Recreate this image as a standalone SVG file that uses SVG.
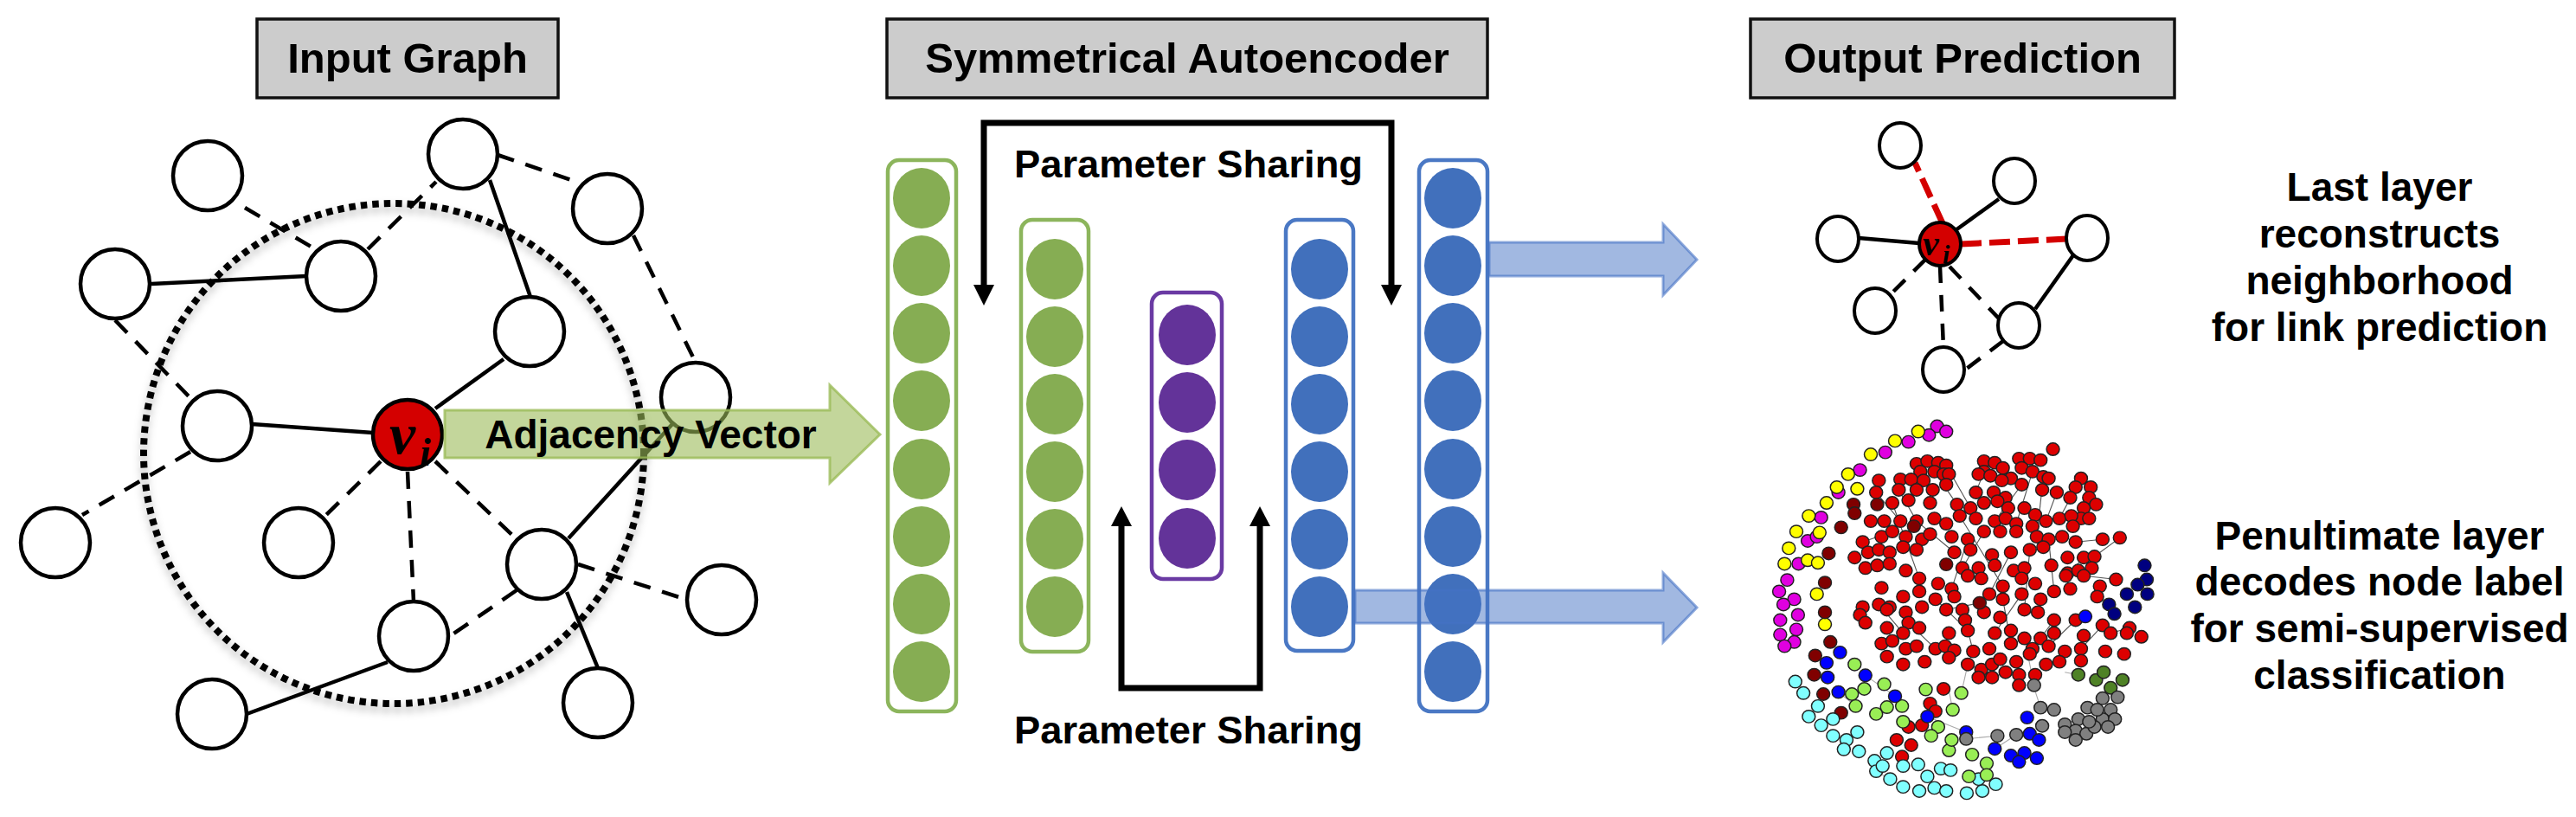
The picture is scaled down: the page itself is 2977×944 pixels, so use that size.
<svg xmlns="http://www.w3.org/2000/svg" width="2977" height="944" viewBox="0 0 2977 944">
<defs>
<style>
.tbox{fill:#cccccc;stroke:#111;stroke-width:3.5}
.title{font-family:"Liberation Sans",Arial,sans-serif;font-weight:bold;font-size:49px;text-anchor:middle;fill:#000}
.lbl{font-family:"Liberation Sans",Arial,sans-serif;font-weight:bold;font-size:46px;text-anchor:middle;fill:#000}
.ps{font-family:"Liberation Sans",Arial,sans-serif;font-weight:bold;font-size:45px;fill:#000}
.math{font-family:"Liberation Serif","Times New Roman",serif;font-style:italic;font-weight:bold;fill:#000}
.n{fill:#fff;stroke:#000;stroke-width:4.5}
.s{stroke:#000;stroke-width:4.5;fill:none}
.d{stroke:#000;stroke-width:4.5;stroke-dasharray:20 14;fill:none}
.rd{stroke:#d40000;stroke-width:7;stroke-dasharray:24 9;fill:none}
.vi{fill:#d40000;stroke:#000;stroke-width:4.5}
.g{fill:#86ad53}.p{fill:#633399}.b{fill:#4170bc}
.gr{fill:#fff;stroke:#8cb55c;stroke-width:4.5}
.pr{fill:#fff;stroke:#6a3aa3;stroke-width:4.5}
.br{fill:#fff;stroke:#4a78c4;stroke-width:4.5}
.brk{stroke:#000;stroke-width:7;fill:none}
.cg circle{stroke:#222;stroke-width:2.4}
.cr{fill:#dd0000}.cm{fill:#e000e0}.cy{fill:#ffff00}.cd{fill:#800000}.cb{fill:#0000ff}.cn{fill:#000080}.cc{fill:#80ffff}.cl{fill:#99ee55}.cgn{fill:#4f8226}.ck{fill:#808080}
</style>
<filter id="sh" x="-20%" y="-20%" width="140%" height="140%">
<feDropShadow dx="0" dy="6" stdDeviation="5" flood-color="#000" flood-opacity="0.3"/>
</filter>
</defs>
<rect width="2977" height="944" fill="#fff"/>

<!-- Titles -->
<g id="title-input"><rect class="tbox" x="297" y="22" width="348" height="91"/><text class="title" x="471" y="84">Input Graph</text></g>
<g id="title-ae"><rect class="tbox" x="1025" y="22" width="694" height="91"/><text class="title" x="1372" y="84">Symmetrical Autoencoder</text></g>
<g id="title-out"><rect class="tbox" x="2023" y="22" width="490" height="91"/><text class="title" x="2268" y="84">Output Prediction</text></g>

<!-- Input graph -->
<circle id="neighborhood" cx="455" cy="524" r="289" fill="none" stroke="#000" stroke-width="8" stroke-dasharray="7.5 6" filter="url(#sh)"/>
<g id="input-edges">
<line class="d" x1="283" y1="240" x2="368" y2="290"/>
<line class="s" x1="175" y1="328" x2="354" y2="319"/>
<line class="d" x1="425" y1="288" x2="504" y2="210"/>
<line class="d" x1="133" y1="370" x2="222" y2="462"/>
<line class="s" x1="291" y1="490" x2="431" y2="500"/>
<line class="d" x1="220" y1="522" x2="95" y2="595"/>
<line class="d" x1="440" y1="533" x2="377" y2="595"/>
<line class="d" x1="471" y1="545" x2="478" y2="695"/>
<line class="d" x1="503" y1="533" x2="597" y2="623"/>
<line class="s" x1="657" y1="622" x2="777" y2="490"/>
<line class="d" x1="668" y1="652" x2="794" y2="693"/>
<line class="s" x1="655" y1="684" x2="691" y2="772"/>
<line class="d" x1="597" y1="682" x2="520" y2="735"/>
<line class="s" x1="448" y1="765" x2="285" y2="825"/>
<line class="d" x1="575" y1="179" x2="666" y2="210"/>
<line class="s" x1="566" y1="208" x2="613" y2="343"/>
<line class="d" x1="732" y1="272" x2="804" y2="419"/>
<line class="s" x1="582" y1="415" x2="503" y2="472"/>
</g>
<g id="n1"><circle class="n" cx="240" cy="203" r="40"/></g>
<g id="n2"><circle class="n" cx="535" cy="178" r="40"/></g>
<g id="n3"><circle class="n" cx="702" cy="241" r="40"/></g>
<g id="n4"><circle class="n" cx="133" cy="328" r="40"/></g>
<g id="n5"><circle class="n" cx="394" cy="319" r="40"/></g>
<g id="n6"><circle class="n" cx="612" cy="383" r="40"/></g>
<g id="n7"><circle class="n" cx="804" cy="459" r="40"/></g>
<g id="n8"><circle class="n" cx="251" cy="492" r="40"/></g>
<g id="n10"><circle class="n" cx="64" cy="627" r="40"/></g>
<g id="n11"><circle class="n" cx="345" cy="627" r="40"/></g>
<g id="n12"><circle class="n" cx="626" cy="652" r="40"/></g>
<g id="n13"><circle class="n" cx="834" cy="693" r="40"/></g>
<g id="n14"><circle class="n" cx="478" cy="735" r="40"/></g>
<g id="n15"><circle class="n" cx="245" cy="825" r="40"/></g>
<g id="n16"><circle class="n" cx="691" cy="812" r="40"/></g>
<g id="vi-main"><circle class="vi" cx="471" cy="502" r="40"/><text class="math" x="450" y="524" font-size="68">v</text><text class="math" x="485" y="538" font-size="46">i</text></g>

<!-- Adjacency vector arrow -->
<g id="adjacency-arrow">
<path d="M514,474 L959,474 L959,445 L1017,502 L959,558 L959,529 L514,529 Z" fill="#9bbb59" fill-opacity="0.6" stroke="#9bbb59" stroke-opacity="0.8" stroke-width="3"/>
<text class="lbl" x="752" y="518">Adjacency Vector</text>
</g>

<!-- Autoencoder layers -->
<g id="layer1">
<rect class="gr" x="1026" y="185" width="79" height="637" rx="13"/>
<ellipse class="g" cx="1065" cy="229" rx="33" ry="35"/><ellipse class="g" cx="1065" cy="307" rx="33" ry="35"/><ellipse class="g" cx="1065" cy="385" rx="33" ry="35"/><ellipse class="g" cx="1065" cy="463" rx="33" ry="35"/><ellipse class="g" cx="1065" cy="542" rx="33" ry="35"/><ellipse class="g" cx="1065" cy="620" rx="33" ry="35"/><ellipse class="g" cx="1065" cy="698" rx="33" ry="35"/><ellipse class="g" cx="1065" cy="776" rx="33" ry="35"/>
</g>
<g id="layer2">
<rect class="gr" x="1180" y="254" width="78" height="499" rx="13"/>
<ellipse class="g" cx="1219" cy="311" rx="33" ry="35"/><ellipse class="g" cx="1219" cy="389" rx="33" ry="35"/><ellipse class="g" cx="1219" cy="467" rx="33" ry="35"/><ellipse class="g" cx="1219" cy="545" rx="33" ry="35"/><ellipse class="g" cx="1219" cy="623" rx="33" ry="35"/><ellipse class="g" cx="1219" cy="701" rx="33" ry="35"/>
</g>
<g id="layer3">
<rect class="pr" x="1331" y="338" width="81" height="331" rx="13"/>
<ellipse class="p" cx="1372" cy="387" rx="33" ry="35"/><ellipse class="p" cx="1372" cy="465" rx="33" ry="35"/><ellipse class="p" cx="1372" cy="543" rx="33" ry="35"/><ellipse class="p" cx="1372" cy="622" rx="33" ry="35"/>
</g>
<g id="layer4">
<rect class="br" x="1486" y="254" width="78" height="498" rx="13"/>
<ellipse class="b" cx="1525" cy="311" rx="33" ry="35"/><ellipse class="b" cx="1525" cy="389" rx="33" ry="35"/><ellipse class="b" cx="1525" cy="467" rx="33" ry="35"/><ellipse class="b" cx="1525" cy="545" rx="33" ry="35"/><ellipse class="b" cx="1525" cy="623" rx="33" ry="35"/><ellipse class="b" cx="1525" cy="701" rx="33" ry="35"/>
</g>
<g id="layer5">
<rect class="br" x="1640" y="185" width="79" height="637" rx="13"/>
<ellipse class="b" cx="1679" cy="229" rx="33" ry="35"/><ellipse class="b" cx="1679" cy="307" rx="33" ry="35"/><ellipse class="b" cx="1679" cy="385" rx="33" ry="35"/><ellipse class="b" cx="1679" cy="463" rx="33" ry="35"/><ellipse class="b" cx="1679" cy="542" rx="33" ry="35"/><ellipse class="b" cx="1679" cy="620" rx="33" ry="35"/><ellipse class="b" cx="1679" cy="698" rx="33" ry="35"/><ellipse class="b" cx="1679" cy="776" rx="33" ry="35"/>
</g>

<!-- Parameter sharing brackets and output arrows -->
<g id="connectors">
<path class="brk" d="M1137,331 L1137,142 L1608,142 L1608,331"/>
<polygon points="1125,329 1149,329 1137,353"/>
<polygon points="1596,329 1620,329 1608,353"/>
<path class="brk" d="M1296,606 L1296,795 L1456,795 L1456,606"/>
<polygon points="1284,608 1308,608 1296,585"/>
<polygon points="1444,608 1468,608 1456,585"/>
<path d="M1721,280 L1922,280 L1922,259 L1961,300 L1922,341 L1922,319 L1721,319 Z" fill="#4472c4" fill-opacity="0.5" stroke="#4472c4" stroke-opacity="0.6" stroke-width="3"/>
<path d="M1566,682 L1922,682 L1922,662 L1961,702 L1922,742 L1922,720 L1566,720 Z" fill="#4472c4" fill-opacity="0.5" stroke="#4472c4" stroke-opacity="0.6" stroke-width="3"/>
</g>
<text class="ps" x="1172" y="205" textLength="403" lengthAdjust="spacingAndGlyphs">Parameter Sharing</text>
<text class="ps" x="1172" y="859" textLength="403" lengthAdjust="spacingAndGlyphs">Parameter Sharing</text>

<!-- Output small graph -->
<g id="out-edges">
<line class="rd" x1="2245" y1="258" x2="2213" y2="188"/>
<line class="s" x1="2260" y1="266" x2="2310" y2="230"/>
<line class="s" x1="2218" y1="281" x2="2148" y2="275" stroke-width="3.5"/>
<line class="rd" x1="2266" y1="282" x2="2388" y2="276"/>
<line class="d" x1="2225" y1="300" x2="2185" y2="340" style="stroke-dasharray:19 14"/>
<line class="d" x1="2242" y1="308" x2="2246" y2="402" style="stroke-dasharray:19 14"/>
<line class="d" x1="2253" y1="308" x2="2310" y2="368" style="stroke-dasharray:19 14"/>
<line class="s" x1="2396" y1="295" x2="2352" y2="357" stroke-width="5"/>
<line class="d" x1="2315" y1="394" x2="2270" y2="428" style="stroke-dasharray:19 14"/>
</g>
<g id="oA"><ellipse class="n" cx="2196" cy="168" rx="24" ry="26" style="stroke-width:4"/></g>
<g id="oB"><ellipse class="n" cx="2328" cy="209" rx="24" ry="26" style="stroke-width:4"/></g>
<g id="oC"><ellipse class="n" cx="2124" cy="276" rx="24" ry="26" style="stroke-width:4"/></g>
<g id="oD"><ellipse class="n" cx="2412" cy="275" rx="24" ry="26" style="stroke-width:4"/></g>
<g id="oE"><ellipse class="n" cx="2167" cy="359" rx="24" ry="26" style="stroke-width:4"/></g>
<g id="oF"><ellipse class="n" cx="2333" cy="376" rx="24" ry="26" style="stroke-width:4"/></g>
<g id="oG"><ellipse class="n" cx="2246" cy="427" rx="24" ry="26" style="stroke-width:4"/></g>
<g id="vi-out"><ellipse class="vi" cx="2242" cy="282" rx="24" ry="25" style="stroke-width:4"/><text class="math" x="2222" y="295" font-size="42">v</text><text class="math" x="2245" y="304" font-size="30">i</text></g>

<!-- Right texts -->
<g id="text-link">
<text class="lbl" x="2750" y="232">Last layer</text>
<text class="lbl" x="2750" y="286">reconstructs</text>
<text class="lbl" x="2750" y="340">neighborhood</text>
<text class="lbl" x="2750" y="394">for link prediction</text>
</g>
<g id="text-class">
<text class="lbl" x="2750" y="635">Penultimate layer</text>
<text class="lbl" x="2750" y="688">decodes node label</text>
<text class="lbl" x="2750" y="742">for semi-supervised</text>
<text class="lbl" x="2750" y="796">classification</text>
</g>

<!-- Classification graph (scene) -->
<g id="class-graph" class="cg" transform="translate(2000 0) scale(0.623 0.6021)">
<g stroke="#555" stroke-width="1.8">
<line x1="400" y1="893" x2="445" y2="975"/><line x1="378" y1="905" x2="420" y2="968"/><line x1="470" y1="905" x2="455" y2="945"/><line x1="540" y1="930" x2="490" y2="1000"/><line x1="560" y1="905" x2="530" y2="1005"/><line x1="580" y1="915" x2="568" y2="1030"/><line x1="650" y1="918" x2="610" y2="995"/><line x1="300" y1="965" x2="350" y2="1110"/><line x1="425" y1="990" x2="505" y2="1125"/><line x1="440" y1="1035" x2="410" y2="1130"/><line x1="520" y1="1060" x2="480" y2="1140"/><line x1="555" y1="1055" x2="545" y2="1170"/><line x1="605" y1="945" x2="585" y2="1000"/><line x1="345" y1="1000" x2="415" y2="1060"/><line x1="470" y1="1020" x2="430" y2="1090"/><line x1="590" y1="1035" x2="600" y2="1135"/><line x1="655" y1="1070" x2="622" y2="1105"/><line x1="715" y1="1112" x2="655" y2="1105"/><line x1="690" y1="1035" x2="640" y2="1040"/><line x1="722" y1="1032" x2="675" y2="1068"/><line x1="380" y1="1150" x2="440" y2="1210"/><line x1="505" y1="1150" x2="520" y2="1235"/><line x1="540" y1="1140" x2="490" y2="1215"/><line x1="600" y1="1190" x2="560" y2="1245"/><line x1="640" y1="1190" x2="590" y2="1240"/><line x1="690" y1="1200" x2="650" y2="1245"/><line x1="740" y1="1205" x2="705" y2="1215"/><line x1="435" y1="1190" x2="450" y2="1250"/><line x1="330" y1="1195" x2="380" y2="1245"/><line x1="270" y1="945" x2="315" y2="1000"/><line x1="312" y1="940" x2="345" y2="1000"/><line x1="245" y1="1040" x2="300" y2="1020"/><line x1="275" y1="1160" x2="320" y2="1215"/><line x1="462" y1="1157" x2="400" y2="1170"/>
</g>
<g stroke="#aaa" stroke-width="1.8">
<line x1="437" y1="1418" x2="495" y2="1412"/><line x1="365" y1="1375" x2="437" y2="1405"/><line x1="250" y1="1296" x2="305" y2="1336"/><line x1="200" y1="1328" x2="232" y2="1355"/><line x1="490" y1="1437" x2="530" y2="1410"/><line x1="563" y1="1315" x2="545" y2="1225"/><line x1="575" y1="1358" x2="555" y2="1295"/><line x1="620" y1="1290" x2="645" y2="1295"/><line x1="412" y1="1362" x2="405" y2="1325"/><line x1="428" y1="1330" x2="440" y2="1275"/><line x1="270" y1="1480" x2="320" y2="1510"/>
</g>
<g class="cr">
<circle cx="598" cy="862" r="12"/><circle cx="345" cy="890" r="12"/><circle cx="365" cy="885" r="12"/><circle cx="385" cy="888" r="12"/><circle cx="400" cy="893" r="12"/><circle cx="470" cy="885" r="12"/><circle cx="490" cy="888" r="12"/><circle cx="535" cy="880" r="12"/><circle cx="555" cy="880" r="12"/><circle cx="575" cy="883" r="12"/>
<circle cx="352" cy="905" r="12"/><circle cx="378" cy="905" r="12"/><circle cx="470" cy="905" r="12"/><circle cx="505" cy="898" r="12"/><circle cx="540" cy="898" r="12"/><circle cx="560" cy="905" r="12"/><circle cx="580" cy="915" r="12"/><circle cx="395" cy="910" r="12"/>
<circle cx="275" cy="922" r="12"/><circle cx="315" cy="920" r="12"/><circle cx="335" cy="920" r="12"/><circle cx="358" cy="922" r="12"/><circle cx="405" cy="910" r="12"/><circle cx="460" cy="910" r="12"/><circle cx="482" cy="913" r="12"/><circle cx="650" cy="918" r="12"/><circle cx="668" cy="935" r="12"/><circle cx="520" cy="918" r="12"/><circle cx="590" cy="918" r="12"/><circle cx="503" cy="922" r="12"/>
<circle cx="270" cy="945" r="12"/><circle cx="312" cy="940" r="12"/><circle cx="345" cy="940" r="12"/><circle cx="375" cy="940" r="12"/><circle cx="400" cy="930" r="12"/><circle cx="540" cy="930" r="12"/><circle cx="578" cy="940" r="12"/><circle cx="640" cy="935" r="12"/><circle cx="665" cy="955" r="12"/><circle cx="678" cy="968" r="12"/><circle cx="455" cy="945" r="12"/><circle cx="488" cy="945" r="12"/><circle cx="510" cy="955" r="12"/><circle cx="495" cy="962" r="12"/>
<circle cx="300" cy="965" r="12"/><circle cx="330" cy="960" r="12"/><circle cx="370" cy="965" r="12"/><circle cx="420" cy="968" r="12"/><circle cx="445" cy="975" r="12"/><circle cx="470" cy="965" r="12"/><circle cx="515" cy="975" r="12"/><circle cx="545" cy="975" r="12"/><circle cx="565" cy="988" r="12"/><circle cx="605" cy="945" r="12"/><circle cx="630" cy="955" r="12"/><circle cx="655" cy="975" r="12"/><circle cx="650" cy="995" r="12"/>
<circle cx="260" cy="1000" r="12"/><circle cx="285" cy="1000" r="12"/><circle cx="315" cy="1000" r="12"/><circle cx="345" cy="1000" r="12"/><circle cx="378" cy="995" r="12"/><circle cx="400" cy="1005" r="12"/><circle cx="425" cy="990" r="12"/><circle cx="455" cy="995" r="12"/><circle cx="490" cy="1000" r="12"/><circle cx="510" cy="995" r="12"/><circle cx="530" cy="1005" r="12"/><circle cx="560" cy="1010" r="12"/><circle cx="585" cy="1000" r="12"/><circle cx="610" cy="995" r="12"/><circle cx="632" cy="990" r="12"/><circle cx="635" cy="1010" r="12"/><circle cx="665" cy="995" r="12"/><circle cx="690" cy="1035" r="12"/><circle cx="722" cy="1032" r="12"/>
<circle cx="245" cy="1040" r="12"/><circle cx="280" cy="1030" r="12"/><circle cx="300" cy="1020" r="12"/><circle cx="325" cy="1030" r="12"/><circle cx="355" cy="1035" r="12"/><circle cx="370" cy="1025" r="12"/><circle cx="410" cy="1030" r="12"/><circle cx="440" cy="1035" r="12"/><circle cx="470" cy="1020" r="12"/><circle cx="500" cy="1020" r="12"/><circle cx="530" cy="1020" r="12"/><circle cx="568" cy="1030" r="12"/><circle cx="590" cy="1035" r="12"/><circle cx="615" cy="1030" r="12"/><circle cx="640" cy="1040" r="12"/>
<circle cx="230" cy="1070" r="12"/><circle cx="255" cy="1060" r="12"/><circle cx="275" cy="1055" r="12"/><circle cx="295" cy="1060" r="12"/><circle cx="320" cy="1050" r="12"/><circle cx="345" cy="1055" r="12"/><circle cx="415" cy="1060" r="12"/><circle cx="445" cy="1055" r="12"/><circle cx="485" cy="1065" r="12"/><circle cx="520" cy="1060" r="12"/><circle cx="555" cy="1055" r="12"/><circle cx="580" cy="1050" r="12"/><circle cx="625" cy="1070" r="12"/><circle cx="655" cy="1070" r="12"/><circle cx="675" cy="1068" r="12"/>
<circle cx="250" cy="1090" r="12"/><circle cx="272" cy="1085" r="12"/><circle cx="295" cy="1082" r="12"/><circle cx="325" cy="1095" r="12"/><circle cx="430" cy="1090" r="12"/><circle cx="460" cy="1090" r="12"/><circle cx="490" cy="1085" r="12"/><circle cx="525" cy="1095" r="12"/><circle cx="545" cy="1090" r="12"/><circle cx="595" cy="1085" r="12"/><circle cx="625" cy="1100" r="12"/><circle cx="645" cy="1095" r="12"/><circle cx="670" cy="1090" r="12"/>
<circle cx="350" cy="1110" r="12"/><circle cx="385" cy="1120" r="12"/><circle cx="410" cy="1130" r="12"/><circle cx="440" cy="1105" r="12"/><circle cx="465" cy="1110" r="12"/><circle cx="505" cy="1125" r="12"/><circle cx="540" cy="1110" r="12"/><circle cx="565" cy="1120" r="12"/><circle cx="622" cy="1105" r="12"/><circle cx="655" cy="1105" r="12"/><circle cx="715" cy="1112" r="12"/><circle cx="280" cy="1128" r="12"/><circle cx="320" cy="1145" r="12"/><circle cx="350" cy="1135" r="12"/>
<circle cx="245" cy="1165" r="12"/><circle cx="275" cy="1160" r="12"/><circle cx="295" cy="1165" r="12"/><circle cx="355" cy="1165" r="12"/><circle cx="380" cy="1150" r="12"/><circle cx="415" cy="1145" r="12"/><circle cx="480" cy="1140" r="12"/><circle cx="505" cy="1150" r="12"/><circle cx="540" cy="1140" r="12"/><circle cx="575" cy="1150" r="12"/><circle cx="600" cy="1135" r="12"/><circle cx="630" cy="1130" r="12"/><circle cx="685" cy="1125" r="12"/><circle cx="680" cy="1145" r="12"/>
<circle cx="240" cy="1180" r="12"/><circle cx="250" cy="1195" r="12"/><circle cx="290" cy="1170" r="12"/><circle cx="325" cy="1175" r="12"/><circle cx="330" cy="1195" r="12"/><circle cx="400" cy="1170" r="12"/><circle cx="430" cy="1170" r="12"/><circle cx="435" cy="1190" r="12"/><circle cx="470" cy="1175" r="12"/><circle cx="500" cy="1185" r="12"/><circle cx="545" cy="1170" r="12"/><circle cx="570" cy="1175" r="12"/><circle cx="600" cy="1190" r="12"/><circle cx="640" cy="1190" r="12"/><circle cx="690" cy="1200" r="12"/><circle cx="740" cy="1205" r="12"/>
<circle cx="290" cy="1205" r="12"/><circle cx="320" cy="1215" r="12"/><circle cx="350" cy="1205" r="12"/><circle cx="405" cy="1215" r="12"/><circle cx="440" cy="1210" r="12"/><circle cx="490" cy="1215" r="12"/><circle cx="520" cy="1210" r="12"/><circle cx="545" cy="1225" r="12"/><circle cx="575" cy="1225" r="12"/><circle cx="600" cy="1215" r="12"/><circle cx="655" cy="1220" r="12"/><circle cx="705" cy="1215" r="12"/><circle cx="735" cy="1215" r="12"/><circle cx="762" cy="1222" r="12"/>
<circle cx="280" cy="1235" r="12"/><circle cx="300" cy="1230" r="12"/><circle cx="325" cy="1245" r="12"/><circle cx="345" cy="1240" r="12"/><circle cx="380" cy="1245" r="12"/><circle cx="398" cy="1240" r="12"/><circle cx="415" cy="1248" r="12"/><circle cx="450" cy="1250" r="12"/><circle cx="480" cy="1245" r="12"/><circle cx="520" cy="1235" r="12"/><circle cx="560" cy="1245" r="12"/><circle cx="590" cy="1240" r="12"/><circle cx="620" cy="1250" r="12"/><circle cx="650" cy="1245" r="12"/><circle cx="695" cy="1250" r="12"/><circle cx="730" cy="1255" r="12"/>
<circle cx="290" cy="1260" r="12"/><circle cx="320" cy="1275" r="12"/><circle cx="360" cy="1270" r="12"/><circle cx="405" cy="1262" r="12"/><circle cx="440" cy="1275" r="12"/><circle cx="465" cy="1285" r="12"/><circle cx="485" cy="1275" r="12"/><circle cx="500" cy="1265" r="12"/><circle cx="530" cy="1270" r="12"/><circle cx="555" cy="1255" r="12"/><circle cx="585" cy="1275" r="12"/><circle cx="610" cy="1270" r="12"/><circle cx="650" cy="1268" r="12"/>
<circle cx="460" cy="1300" r="12"/><circle cx="485" cy="1300" r="12"/><circle cx="510" cy="1290" r="12"/><circle cx="535" cy="1295" r="12"/><circle cx="565" cy="1295" r="12"/><circle cx="535" cy="1315" r="12"/><circle cx="395" cy="1322" r="12"/>
<circle cx="370" cy="1350" r="12"/><circle cx="380" cy="1365" r="12"/><circle cx="330" cy="1395" r="12"/><circle cx="355" cy="1392" r="12"/><circle cx="308" cy="1420" r="12"/><circle cx="335" cy="1430" r="12"/><circle cx="318" cy="1452" r="12"/>
</g>
<g class="cm">
<circle cx="383" cy="818" r="12"/><circle cx="400" cy="828" r="12"/><circle cx="368" cy="835" r="12"/><circle cx="330" cy="848" r="12"/><circle cx="287" cy="868" r="12"/><circle cx="240" cy="902" r="12"/><circle cx="200" cy="945" r="12"/><circle cx="168" cy="993" r="12"/><circle cx="143" cy="1038" r="12"/><circle cx="126" cy="1082" r="12"/><circle cx="105" cy="1113" r="12"/><circle cx="90" cy="1135" r="12"/><circle cx="118" cy="1150" r="12"/><circle cx="98" cy="1160" r="12"/><circle cx="125" cy="1180" r="12"/><circle cx="92" cy="1190" r="12"/><circle cx="122" cy="1208" r="12"/><circle cx="92" cy="1218" r="12"/><circle cx="118" cy="1232" r="12"/><circle cx="100" cy="1240" r="12"/><circle cx="160" cy="1030" r="12"/>
</g>
<g class="cy">
<circle cx="348" cy="828" r="12"/><circle cx="305" cy="846" r="12"/><circle cx="260" cy="872" r="12"/><circle cx="218" cy="910" r="12"/><circle cx="197" cy="935" r="12"/><circle cx="235" cy="938" r="12"/><circle cx="178" cy="965" r="12"/><circle cx="145" cy="990" r="12"/><circle cx="122" cy="1020" r="12"/><circle cx="165" cy="1022" r="12"/><circle cx="108" cy="1052" r="12"/><circle cx="100" cy="1082" r="12"/><circle cx="143" cy="1075" r="12"/><circle cx="162" cy="1080" r="12"/><circle cx="160" cy="1140" r="12"/><circle cx="175" cy="1198" r="12"/>
</g>
<g class="cd">
<circle cx="228" cy="968" r="12"/><circle cx="230" cy="985" r="12"/><circle cx="272" cy="968" r="12"/><circle cx="205" cy="1012" r="12"/><circle cx="182" cy="1062" r="12"/><circle cx="175" cy="1118" r="12"/><circle cx="175" cy="1175" r="12"/><circle cx="185" cy="1232" r="12"/><circle cx="157" cy="1258" r="12"/><circle cx="155" cy="1295" r="12"/><circle cx="172" cy="1332" r="12"/><circle cx="205" cy="1368" r="12"/><circle cx="400" cy="1083" r="12"/><circle cx="462" cy="1157" r="12"/><circle cx="340" cy="1010" r="12"/>
</g>
<g class="cc">
<circle cx="120" cy="1308" r="12"/><circle cx="135" cy="1330" r="12"/><circle cx="162" cy="1355" r="12"/><circle cx="145" cy="1375" r="12"/><circle cx="168" cy="1392" r="12"/><circle cx="190" cy="1380" r="12"/><circle cx="190" cy="1412" r="12"/><circle cx="215" cy="1420" r="12"/><circle cx="235" cy="1405" r="12"/><circle cx="210" cy="1438" r="12"/><circle cx="238" cy="1442" r="12"/><circle cx="267" cy="1460" r="12"/><circle cx="290" cy="1445" r="12"/><circle cx="270" cy="1480" r="12"/><circle cx="296" cy="1495" r="12"/><circle cx="320" cy="1470" r="12"/><circle cx="348" cy="1467" r="12"/><circle cx="365" cy="1490" r="12"/><circle cx="390" cy="1475" r="12"/><circle cx="408" cy="1478" r="12"/><circle cx="320" cy="1510" r="12"/><circle cx="350" cy="1518" r="12"/><circle cx="378" cy="1512" r="12"/><circle cx="400" cy="1518" r="12"/><circle cx="438" cy="1522" r="12"/><circle cx="467" cy="1518" r="12"/><circle cx="492" cy="1505" r="12"/><circle cx="460" cy="1495" r="12"/><circle cx="282" cy="1470" r="12"/>
</g>
<g class="cl">
<circle cx="230" cy="1275" r="12"/><circle cx="225" cy="1332" r="12"/><circle cx="232" cy="1355" r="12"/><circle cx="248" cy="1322" r="12"/><circle cx="285" cy="1313" r="12"/><circle cx="270" cy="1370" r="12"/><circle cx="290" cy="1357" r="12"/><circle cx="320" cy="1385" r="12"/><circle cx="318" cy="1355" r="12"/><circle cx="362" cy="1323" r="12"/><circle cx="385" cy="1395" r="12"/><circle cx="372" cy="1412" r="12"/><circle cx="412" cy="1362" r="12"/><circle cx="428" cy="1330" r="12"/><circle cx="405" cy="1440" r="12"/><circle cx="448" cy="1448" r="12"/><circle cx="475" cy="1465" r="12"/><circle cx="475" cy="1487" r="12"/><circle cx="442" cy="1490" r="12"/><circle cx="410" cy="1420" r="12"/>
</g>
<g class="cb">
<circle cx="203" cy="1252" r="12"/><circle cx="178" cy="1272" r="12"/><circle cx="180" cy="1300" r="12"/><circle cx="250" cy="1296" r="12"/><circle cx="200" cy="1328" r="12"/><circle cx="305" cy="1336" r="12"/><circle cx="365" cy="1375" r="12"/><circle cx="437" cy="1405" r="12"/><circle cx="490" cy="1437" r="12"/><circle cx="550" cy="1377" r="12"/><circle cx="555" cy="1408" r="12"/><circle cx="572" cy="1420" r="12"/><circle cx="520" cy="1450" r="12"/><circle cx="545" cy="1445" r="12"/><circle cx="535" cy="1462" r="12"/><circle cx="568" cy="1455" r="12"/><circle cx="658" cy="1183" r="12"/>
</g>
<g class="cn">
<circle cx="768" cy="1085" r="12"/><circle cx="772" cy="1112" r="12"/><circle cx="755" cy="1122" r="12"/><circle cx="735" cy="1140" r="12"/><circle cx="773" cy="1140" r="12"/><circle cx="702" cy="1160" r="12"/><circle cx="712" cy="1178" r="12"/><circle cx="750" cy="1165" r="12"/>
</g>
<g class="cgn">
<circle cx="645" cy="1295" r="12"/><circle cx="678" cy="1305" r="12"/><circle cx="692" cy="1290" r="12"/><circle cx="705" cy="1320" r="12"/><circle cx="727" cy="1305" r="12"/>
</g>
<g class="ck">
<circle cx="563" cy="1315" r="12"/><circle cx="575" cy="1358" r="12"/><circle cx="600" cy="1362" r="12"/><circle cx="578" cy="1393" r="12"/><circle cx="530" cy="1410" r="12"/><circle cx="495" cy="1412" r="12"/><circle cx="437" cy="1418" r="12"/><circle cx="620" cy="1390" r="12"/><circle cx="645" cy="1380" r="12"/><circle cx="662" cy="1358" r="12"/><circle cx="690" cy="1340" r="12"/><circle cx="718" cy="1338" r="12"/><circle cx="705" cy="1362" r="12"/><circle cx="690" cy="1380" r="12"/><circle cx="713" cy="1380" r="12"/><circle cx="640" cy="1402" r="12"/><circle cx="660" cy="1408" r="12"/><circle cx="675" cy="1395" r="12"/><circle cx="640" cy="1420" r="12"/><circle cx="620" cy="1405" r="12"/><circle cx="700" cy="1395" r="12"/><circle cx="680" cy="1362" r="12"/><circle cx="665" cy="1385" r="12"/>
</g>
</g>
</svg>
